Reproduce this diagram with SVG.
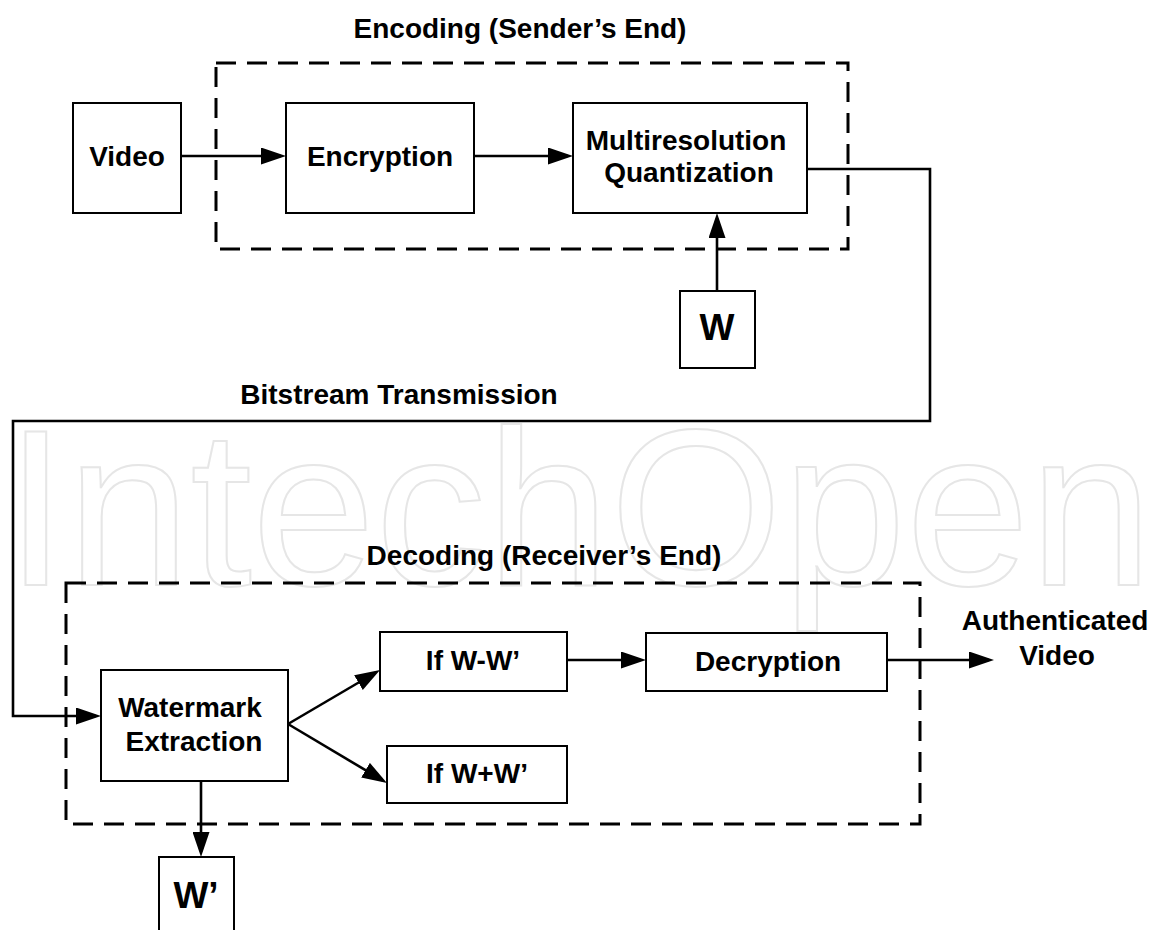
<svg xmlns="http://www.w3.org/2000/svg" width="1153" height="930" viewBox="0 0 1153 930">
<style>
.box{fill:#fff;stroke:#000;stroke-width:2}
.grp{fill:none;stroke:#000;stroke-width:3;stroke-dasharray:20 11}
.lbl{font-family:"Liberation Sans",Arial,sans-serif;font-weight:bold;font-size:28px;fill:#000;text-anchor:middle}
.big{font-size:37px}
.wm{font-family:"Liberation Sans",Arial,sans-serif;font-size:222px;fill:none;stroke:#e6e6e6;stroke-width:2}
.conn path{fill:none;stroke:#000;stroke-width:2.6}
</style>
<defs>
<marker id="ah" viewBox="0 0 25 17" refX="20" refY="8.5" markerWidth="25" markerHeight="17" markerUnits="userSpaceOnUse" orient="auto">
<path d="M0,0 L25,8.5 L0,17 z" fill="#000"/>
</marker>
</defs>
<rect width="1153" height="930" fill="#fff"/>
<text class="wm" x="5" y="585">IntechOpen</text>

<g id="enc-group">
<rect class="grp" x="216" y="63" width="632" height="186"/>
<text class="lbl" x="520" y="38">Encoding (Sender’s End)</text>
</g>
<g id="dec-group">
<rect class="grp" x="66" y="583" width="854" height="241"/>
<text class="lbl" x="544" y="565">Decoding (Receiver’s End)</text>
</g>
<text class="lbl" x="399" y="404">Bitstream Transmission</text>

<g class="conn" id="connectors">
<path d="M181,156 H281" marker-end="url(#ah)"/>
<path d="M474,156 H568" marker-end="url(#ah)"/>
<path d="M717,291 V218" marker-end="url(#ah)"/>
<path d="M807,169 H930 V421 H13 V716 H96" marker-end="url(#ah)"/>
<path d="M288,724 L375.7,672.5" marker-end="url(#ah)"/>
<path d="M288,724 L382.7,780.4" marker-end="url(#ah)"/>
<path d="M201,781 V852" marker-end="url(#ah)"/>
<path d="M567,660 H641" marker-end="url(#ah)"/>
<path d="M887,660 H989" marker-end="url(#ah)"/>
</g>

<g id="video">
<rect class="box" x="73" y="103" width="108" height="110"/>
<text class="lbl" x="127" y="166">Video</text>
</g>
<g id="encryption">
<rect class="box" x="286" y="103" width="188" height="110"/>
<text class="lbl" x="380" y="166">Encryption</text>
</g>
<g id="multires">
<rect class="box" x="573" y="103" width="234" height="110"/>
<text class="lbl" x="686" y="150">Multiresolution</text>
<text class="lbl" x="689" y="182">Quantization</text>
</g>
<g id="w">
<rect class="box" x="680" y="291" width="75" height="77"/>
<text class="lbl big" x="717" y="340">W</text>
</g>
<g id="watermark-extraction">
<rect class="box" x="101" y="670" width="187" height="111"/>
<text class="lbl" x="190" y="717">Watermark</text>
<text class="lbl" x="194" y="751">Extraction</text>
</g>
<g id="if-minus">
<rect class="box" x="380" y="632" width="187" height="59"/>
<text class="lbl" x="473" y="670">If W-W’</text>
</g>
<g id="if-plus">
<rect class="box" x="387" y="746" width="180" height="57"/>
<text class="lbl" x="477" y="783">If W+W’</text>
</g>
<g id="decryption">
<rect class="box" x="646" y="633" width="241" height="58"/>
<text class="lbl" x="768" y="671">Decryption</text>
</g>
<g id="w-prime">
<rect class="box" x="159" y="857" width="75" height="90"/>
<text class="lbl big" x="196" y="908">W’</text>
</g>
<g id="authenticated">
<text class="lbl" x="1055" y="630">Authenticated</text>
<text class="lbl" x="1057" y="665">Video</text>
</g>
</svg>
